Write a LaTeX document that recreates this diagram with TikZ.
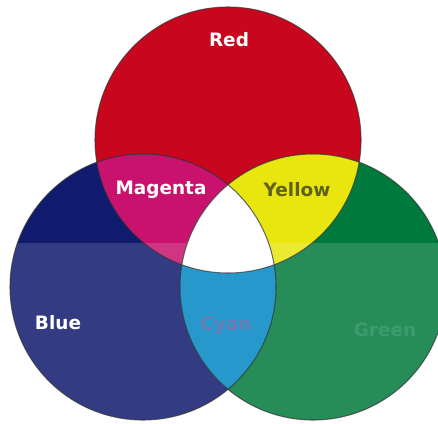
\documentclass[tikz,border=0pt]{standalone}
\usepackage{fontspec}
\setsansfont{DejaVu Sans}
\usepackage{xcolor}
\usepackage{tikz}
\usetikzlibrary{positioning}

\definecolor{redfill}{RGB}{200,6,30}
\definecolor{bluefill}{RGB}{16,27,110}
\definecolor{greenfill}{RGB}{0,122,60}
\definecolor{magentafill}{RGB}{200,18,110}
\definecolor{yellowfill}{RGB}{232,230,14}
\definecolor{cyanfill}{RGB}{38,152,204}
\definecolor{yellowtext}{RGB}{95,95,30}
\definecolor{cyantext}{RGB}{105,125,180}
\definecolor{greentext}{RGB}{60,155,110}

\tikzset{
    colname/.style={font=\sffamily\bfseries\fontsize{10.5}{12}\selectfont, inner sep=0pt},
    rim/.style={draw=black!80, line width=0.6pt, opacity=0.7}
}

\begin{document}
\begin{tikzpicture}[x=0.02cm, y=0.02cm]
    \useasboundingbox (0,0) rectangle (438,423);
    \coordinate (r) at (228,283);
    \coordinate (b) at (143,136);
    \coordinate (g) at (313,136);

    \foreach \c/\col in {r/redfill, b/bluefill, g/greenfill} {
        \fill[\col] (\c) circle[radius=133];
    }
    \begin{scope}
        \clip (r) circle[radius=133];
        \fill[magentafill] (b) circle[radius=133];
        \fill[yellowfill] (g) circle[radius=133];
    \end{scope}

    \fill[white, opacity=0.15] (0,0) rectangle (438,180);

    \begin{scope}
        \clip (b) circle[radius=133];
        \fill[cyanfill] (g) circle[radius=133];
        \clip (r) circle[radius=133];
        \fill[white] (g) circle[radius=133];
    \end{scope}

    \foreach \c in {r, b, g} {
        \draw[rim] (\c) circle[radius=133];
    }

    \node[colname, white] (red) at (229,383) {Red};
    \node[colname, white] (magenta) at (161,233) {Magenta};
    \node[colname, yellowtext] (yellow) at (297,233) {Yellow};
    \node[colname, white] (blue) at (58,100) {Blue};
    \node[colname, cyantext] (cyan) at (226,97) {Cyan};
    \node[colname, greentext] (green) at (385,93) {Green};
\end{tikzpicture}
\end{document}
